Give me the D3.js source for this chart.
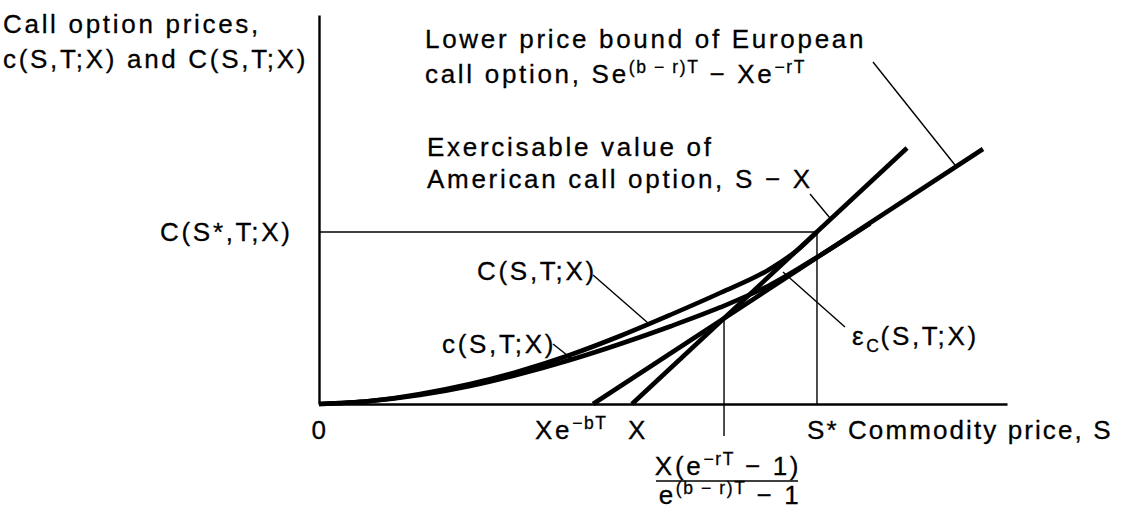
<!DOCTYPE html>
<html><head><meta charset="utf-8">
<script src="https://cdn.jsdelivr.net/npm/d3@7"></script>
<style>
html,body{margin:0;padding:0;background:#fff;}
svg{display:block;}
text{font-family:"Liberation Sans",Arial,Helvetica,sans-serif;font-size:26px;letter-spacing:2.7px;fill:#000;stroke:#000;stroke-width:0.3px;}
</style></head><body>
<svg id="chart" width="1124" height="512"></svg>
<script>
// Price levels marked on the commodity-price axis
const xeBT = 39.83;      // Xe^{-bT}
const strike = 45.49;    // X
const critical = 58.87;  // X(e^{-rT}-1)/(e^{(b-r)T}-1)
const sStar = 72.38;     // S*, early-exercise boundary
const cStar = 44.22;     // C(S*,T;X)

// American call value C(S,T;X) as [S, value]
const americanCall = [[0,0],[7.41,0.77],[14.68,2.57],[21.95,5.14],[29.22,8.48],[36.48,12.60],
  [43.75,17.48],[51.02,22.88],[58.28,28.53],[65.55,34.70],[69.91,40.10],[72.38,44.22]];
// European call value c(S,T;X)
const europeanCall = [[0,0],[7.41,0.77],[14.68,2.31],[21.95,4.63],[29.22,7.71],[36.48,11.31],
  [43.75,15.42],[51.02,19.92],[58.28,24.81],[65.55,30.59],[72.82,38.2],[80.09,46.4]];
// Exercisable value S - X
const exerciseValue = [[45.49,0],[85.47,65.81]];
// Lower price bound Se^{(b-r)T} - Xe^{-rT}
const lowerBound = [[39.83,0],[96.51,65.55]];

const svg = d3.select("#chart");
const x = d3.scaleLinear().domain([0,100]).range([319,1007]);
const y = d3.scaleLinear().domain([0,100]).range([404,15]);

// axes without ticks
svg.append("g").attr("transform",`translate(0,${y(0)})`)
  .call(d3.axisBottom(x).tickValues([]).tickSizeOuter(0))
  .select(".domain").attr("stroke","#000").attr("stroke-width",2.6);
svg.append("g").attr("transform",`translate(${x(0)},0)`)
  .call(d3.axisLeft(y).tickValues([]).tickSizeOuter(0))
  .select(".domain").attr("stroke","#000").attr("stroke-width",2.4);

const line = d3.line().x(d=>x(d[0])).y(d=>y(d[1]));
const thin = (pts)=>svg.append("path").attr("d",line(pts)).attr("fill","none")
  .attr("stroke","#000").attr("stroke-width",1.4);

// guide lines
thin([[0,cStar],[sStar,cStar]]);
thin([[sStar,0],[sStar,cStar]]);
thin([[critical,-8.2],[critical,22.0]]);

// curves and bounds
const smooth = d3.line().x(d=>x(d[0])).y(d=>y(d[1])).curve(d3.curveMonotoneX);
[[europeanCall,smooth],[americanCall,smooth],[exerciseValue,line],[lowerBound,line]].forEach(([pts,gen])=>{
  svg.append("path").attr("d",gen(pts)).attr("fill","none")
    .attr("stroke","#000").attr("stroke-width",4.6).attr("stroke-linecap","butt");
});

// leader lines from labels to curves
const leaders = [
  [[80.52,87.92],[92.44,61.44]],
  [[71.37,53.98],[74.27,47.81]],
  [[39.83,33.16],[47.82,20.82]],
  [[34.01,15.42],[36.77,11.57]],
  [[76.45,19.79],[67.44,33.93]]
];
leaders.forEach(p=>thin(p));

// text helper: parts are [string, kind] where kind is "", "sup" or "sub"
function label(px,py,parts,anchor){
  const t = svg.append("text").attr("x",px).attr("y",py).attr("text-anchor",anchor||"start");
  let shift = 0;
  parts.forEach(([s,k])=>{
    const target = k==="sup" ? -10 : k==="sub" ? 7 : 0;
    const sp = t.append("tspan").attr("dy",target-shift).text(s);
    if(k){ sp.style("font-size","17.5px").style("letter-spacing","1.6px"); }
    shift = target;
  });
  return t;
}

label(3,33,[["Call option prices,",""]]);
label(3,68,[["c(S,T;X) and C(S,T;X)",""]]);
label(425,48,[["Lower price bound of European",""]]);
label(425,83,[["call option, Se",""],["(b − r)T","sup"],[" − Xe",""],["−rT","sup"]]);
label(427,156,[["Exercisable value of",""]]);
label(427,188,[["American call option, S − X",""]]);
label(160,241,[["C(S*,T;X)",""]]);
label(477,280,[["C(S,T;X)",""]]);
label(442,353,[["c(S,T;X)",""]]);
label(852,345,[["ε",""],["C","sub"],["(S,T;X)",""]]);

// axis labels
label(x(0)+1,439,[["0",""]],"middle");
label(x(xeBT)-58,439,[["Xe",""],["−bT","sup"]]);
label(x(strike)-4,439,[["X",""]]);
label(x(sStar)-10,439,[["S* Commodity price, S",""]]).style("letter-spacing","2.1px");
label(x(critical)+4,475,[["X(e",""],["−rT","sup"],[" − 1)",""]],"middle");
svg.append("line").attr("x1",x(critical)-68).attr("x2",x(critical)+74)
  .attr("y1",481).attr("y2",481).attr("stroke","#000").attr("stroke-width",1.4);
label(x(critical)+6,504,[["e",""],["(b − r)T","sup"],[" − 1",""]],"middle");
</script>
</body></html>
